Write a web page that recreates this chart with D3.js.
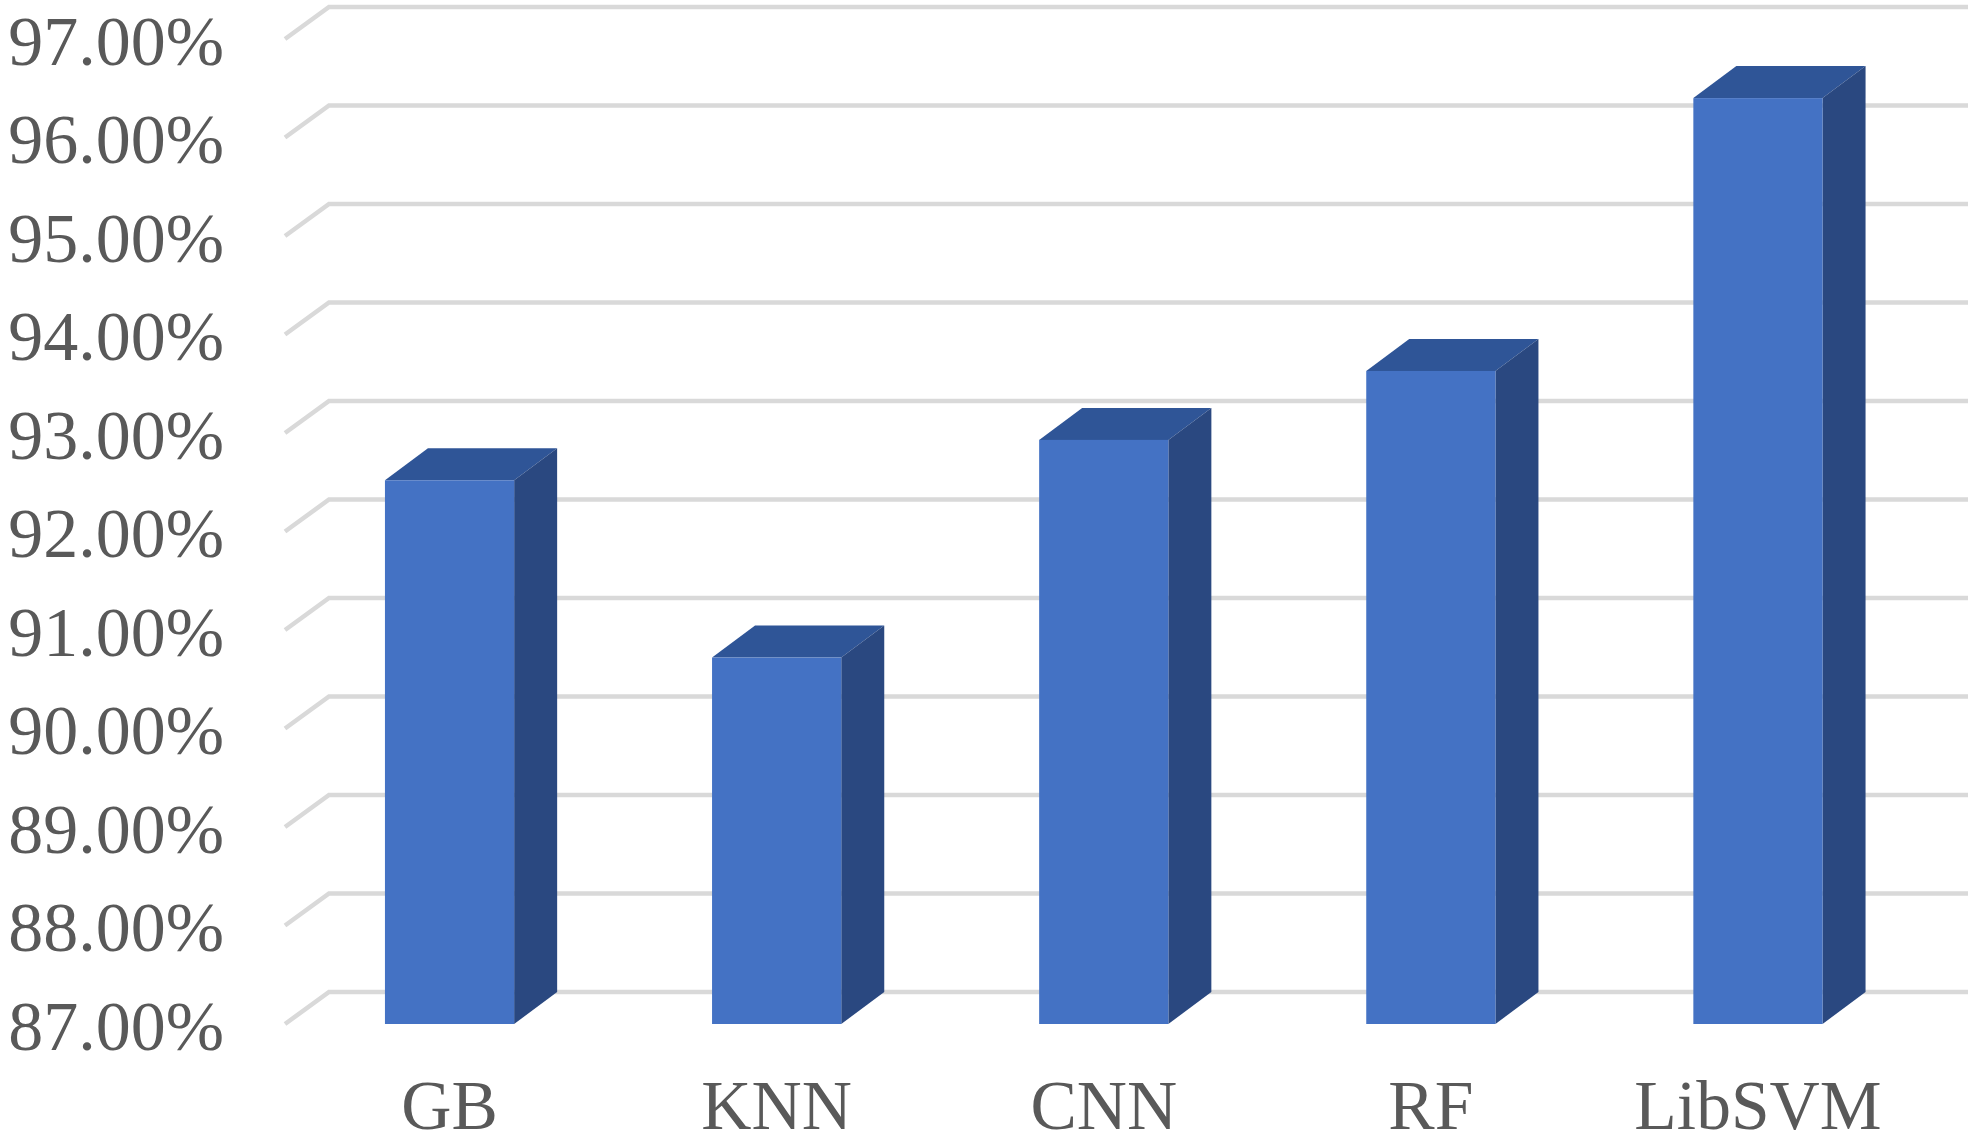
<!DOCTYPE html>
<html><head><meta charset="utf-8">
<script src="https://cdn.jsdelivr.net/npm/d3@7"></script>
<style>html,body{margin:0;padding:0;background:#fff}svg{display:block;filter:blur(0.6px)}</style>
</head><body>
<script>
const categories = ["GB","KNN","CNN","RF","LibSVM"];
const accuracy = [92.52,90.72,92.93,93.63,96.4];
const yTicks = [87,88,89,90,91,92,93,94,95,96,97];
const W=1983,H=1140, depthX=43, depthY=32, gridRight=1968;
const x=d3.scaleBand().domain(categories).range([286,1921.5]).paddingInner(0.605).paddingOuter(0.3025);
const y=d3.scaleLinear().domain([87,97]).range([1024,39]);
const svg=d3.select("body").append("svg").attr("width",W).attr("height",H);
const font="'Liberation Serif',serif";
const line=d3.line();
// gridlines: front-plane stub running back to the wall, then along the wall
svg.append("g").selectAll("path").data(yTicks).join("path")
  .attr("d",t=>line([[x.range()[0]-1,y(t)],[x.range()[0]+depthX,y(t)-depthY],[gridRight,y(t)-depthY]]))
  .attr("fill","none").attr("stroke","#d9d9d9").attr("stroke-width",4.5);
// y axis
const yAxis=svg.append("g").attr("transform","translate(224,24)")
  .call(d3.axisLeft(y).tickValues(yTicks).tickSize(0).tickPadding(0).tickFormat(d=>d3.format(".2f")(d)+"%"));
yAxis.select(".domain").remove();
yAxis.selectAll("text").attr("font-family",font).attr("font-size",70).attr("fill","#595959").attr("dy","0.02em");
// x axis
const xAxis=svg.append("g").attr("transform","translate(0,1129)")
  .call(d3.axisBottom(x).tickSize(0).tickPadding(0));
xAxis.select(".domain").remove();
xAxis.selectAll("text").attr("font-family",font).attr("font-size",69.5).attr("fill","#595959").attr("dy",0);
// 3D bars
const bars=svg.append("g").selectAll("g").data(categories.map((c,i)=>({c,v:accuracy[i]}))).join("g");
const poly=p=>p.map(q=>q.join(",")).join(" ");
bars.append("polygon").attr("fill","#2f5597").attr("points",d=>{
  const a=x(d.c),b=a+x.bandwidth(),t=y(d.v);
  return poly([[a,t],[a+depthX,t-depthY],[b+depthX,t-depthY],[b,t]]);});
bars.append("polygon").attr("fill","#2a4880").attr("points",d=>{
  const b=x(d.c)+x.bandwidth(),t=y(d.v),z=y(87);
  return poly([[b,t],[b+depthX,t-depthY],[b+depthX,z-depthY],[b,z]]);});
bars.append("rect").attr("fill","#4472c4")
  .attr("x",d=>x(d.c)).attr("width",x.bandwidth())
  .attr("y",d=>y(d.v)).attr("height",d=>y(87)-y(d.v));
</script>
</body></html>
